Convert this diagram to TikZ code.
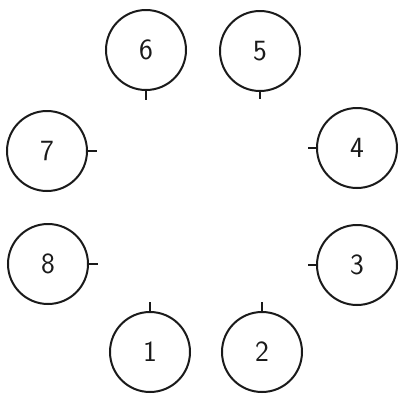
\documentclass[tikz,border=0pt]{standalone}
\usepackage{tikz}
\usepackage{fontspec}
\definecolor{ink}{HTML}{1A1A1A}
\definecolor{paper}{HTML}{FFFFFF}
\tikzset{
  pin/.style={circle, draw=ink, line width=1.5pt, minimum size=60pt, inner sep=0pt,
    font=\fontsize{22}{26}\selectfont\sffamily, text=ink},
  stub/.style={draw=ink, line width=1.5pt}
}

\begin{document}
\begin{tikzpicture}[x=0.75pt, y=-0.75pt]
    \useasboundingbox[fill=paper] (0,0) rectangle (401,394);
    % top row
    \node[pin] (p6) at (146,50) {6};
    \node[pin] (p5) at (260,51) {5};
    % sides
    \node[pin] (p7) at (47,151) {7};
    \node[pin] (p8) at (48,264) {8};
    \node[pin] (p4) at (357,148) {4};
    \node[pin] (p3) at (357,265) {3};
    % bottom row
    \node[pin] (p1) at (150,352) {1};
    \node[pin] (p2) at (262,352) {2};
    % stubs
    \coordinate (s6) at (146,100);
    \coordinate (s5) at (260,99);
    \coordinate (s7) at (97,151);
    \coordinate (s8) at (98,264);
    \coordinate (s4) at (308,148);
    \coordinate (s3) at (308,265);
    \coordinate (s1) at (150,302);
    \coordinate (s2) at (262,302);
    \draw[stub] (p6.south) -- (s6);
    \draw[stub] (p5.south) -- (s5);
    \draw[stub] (p7.east) -- (s7);
    \draw[stub] (p8.east) -- (s8);
    \draw[stub] (p4.west) -- (s4);
    \draw[stub] (p3.west) -- (s3);
    \draw[stub] (p1.north) -- (s1);
    \draw[stub] (p2.north) -- (s2);
  \end{tikzpicture}
\end{document}
